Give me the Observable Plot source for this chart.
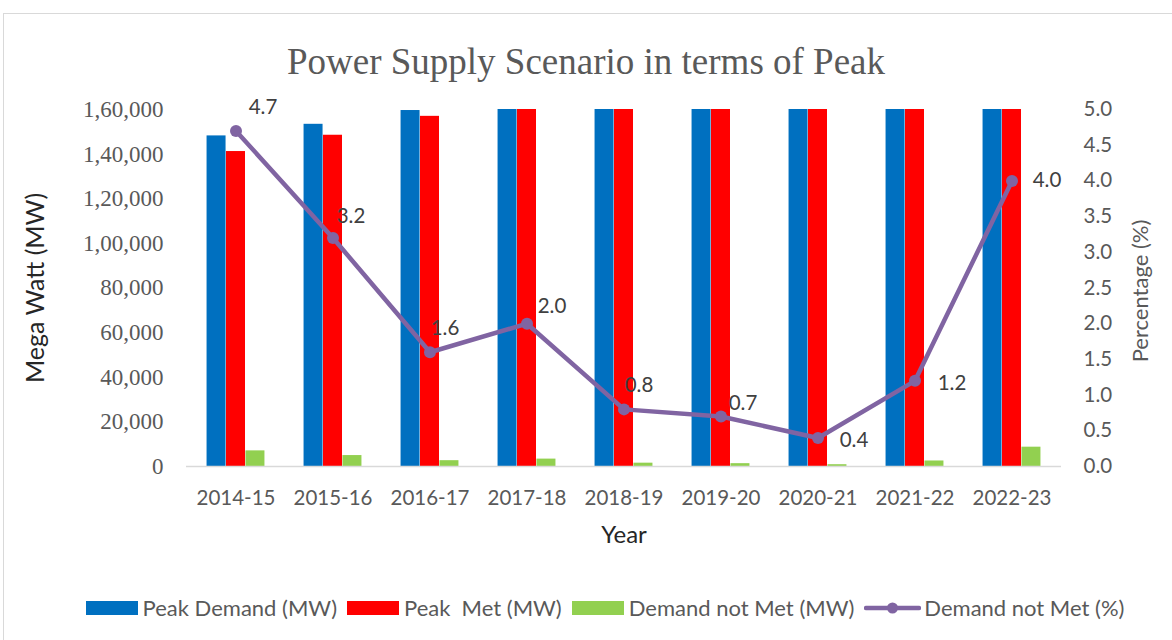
<!DOCTYPE html>
<html>
<head>
<meta charset="utf-8">
<script src="https://cdn.jsdelivr.net/npm/d3@7"></script>
<script src="https://cdn.jsdelivr.net/npm/@observablehq/plot@0.6"></script>
<style>
  html, body { margin: 0; padding: 0; background: #fff; }
  #wrap { position: relative; width: 1172px; height: 640px; overflow: hidden; font-family: Lato, "Open Sans", sans-serif; }
  #border { position: absolute; left: 3px; top: 13px; width: 1200px; height: 700px; border: 1.5px solid #d9d9d9; box-sizing: border-box; }
  #title { position: absolute; left: 0; top: 40px; width: 1172px; text-align: center; font-family: "Liberation Serif", "Times New Roman", serif; font-size: 37px; line-height: 44px; color: #595959; }
  #chart { position: absolute; left: 0; top: 90px; }
  #legend { position: absolute; left: 0; top: 594px; width: 1220px; display: flex; justify-content: center; align-items: center; font-size: 22px; color: #595959; white-space: pre; }
  .item { display: flex; align-items: center; margin-right: 10px; }
  .sw { width: 52px; height: 14px; margin-right: 5px; }
  .ln { width: 57px; height: 14px; margin-right: 3px; }
</style>
</head>
<body>
<div id="wrap">
  <div id="border"></div>
  <div id="title">Power Supply Scenario in terms of Peak</div>
  <div id="chart"></div>
  <div id="legend"></div>
</div>
<script>
// ---- data ----
const years = ["2014-15","2015-16","2016-17","2017-18","2018-19","2019-20","2020-21","2021-22","2022-23"];
const peakDemand = [148166, 153366, 159542, 164066, 177022, 183804, 190198, 203014, 215888];
const peakMet = [141160, 148463, 156934, 160752, 175528, 182533, 189395, 200539, 207231];
const demandNotMetMW = [7006, 4903, 2608, 3314, 1494, 1271, 803, 2475, 8657];
const demandNotMetPct = [4.7, 3.2, 1.6, 2.0, 0.8, 0.7, 0.4, 1.2, 4.0];
const leftTicks = [0, 20000, 40000, 60000, 80000, 100000, 120000, 140000, 160000];
const rightTicks = [0, 0.5, 1, 1.5, 2, 2.5, 3, 3.5, 4, 4.5, 5];
const seriesNames = ["Peak Demand (MW)", "Peak  Met (MW)", "Demand not Met (MW)", "Demand not Met (%)"];
const seriesColors = ["#0070c0", "#ff0000", "#92d050", "#8064a2"];

// ---- build ----
const rows = years.map((y, i) => ({year: y, demand: peakDemand[i], met: peakMet[i], gap: demandNotMetMW[i], pct: demandNotMetPct[i]}));
const yMax = 160000, pMax = 5;
const k = yMax / pMax;
const indian = d => {
  const s = String(Math.round(d));
  if (s.length <= 3) return s;
  const last = s.slice(-3);
  let rest = s.slice(0, -3);
  const parts = [];
  while (rest.length > 2) { parts.unshift(rest.slice(-2)); rest = rest.slice(0, -2); }
  if (rest) parts.unshift(rest);
  return parts.join(",") + "," + last;
};
const step = 875 / 9;
const bw = step * 0.2;
// label offsets relative to each point (dx, dy)
const labelOffsets = [[27,-23],[18,-22],[15,-24],[25,-17],[15,-24],[22,-13],[36,2],[37,3],[35,0]];

const chart = Plot.plot({
  width: 1172,
  height: 470,
  marginLeft: 186,
  marginRight: 111,
  marginTop: 19,
  marginBottom: 94,
  x: {type: "band", domain: years, paddingInner: 0.8, paddingOuter: 0.4, axis: null},
  y: {domain: [0, yMax], axis: null},
  marks: [
    Plot.barY(rows, {x: "year", y: "demand", fill: seriesColors[0], dx: -bw, clip: true}),
    Plot.barY(rows, {x: "year", y: "met", fill: seriesColors[1], clip: true}),
    Plot.barY(rows, {x: "year", y: "gap", fill: seriesColors[2], dx: bw, clip: true}),
    Plot.ruleY([0], {stroke: "#d9d9d9", strokeWidth: 1.5}),
    Plot.axisX({tickSize: 0, tickPadding: 24, label: null, fontSize: 20.5, fontFamily: "Lato", color: "#595959"}),
    Plot.axisY(leftTicks, {anchor: "left", tickSize: 0, tickPadding: 23, label: null, tickFormat: indian, fontSize: 23, fontFamily: "Liberation Serif", color: "#595959"}),
    Plot.axisY(rightTicks.map(v => v * k), {anchor: "right", tickSize: 0, tickPadding: 22, label: null, tickFormat: d => (d / k).toFixed(1), fontSize: 20.5, fontFamily: "Lato", color: "#595959"}),
    Plot.line(rows, {x: "year", y: d => d.pct * k, stroke: seriesColors[3], strokeWidth: 4.5, strokeLinejoin: "round"}),
    Plot.dot(rows, {x: "year", y: d => d.pct * k, r: 6, fill: seriesColors[3], stroke: null}),
    ...rows.map((d, i) => Plot.text([d], {x: "year", y: d => d.pct * k, text: d => d.pct.toFixed(1), dx: labelOffsets[i][0], dy: labelOffsets[i][1], fontSize: 20.5, fontFamily: "Lato", fill: "#404040"})),
    Plot.text(["Mega Watt (MW)"], {frameAnchor: "left", textAnchor: "middle", dx: -151, rotate: -90, fontSize: 25, fontFamily: "Lato", fill: "#262626"}),
    Plot.text(["Percentage (%)"], {frameAnchor: "right", textAnchor: "middle", dx: 79, dy: 3, rotate: -90, fontSize: 22, fontFamily: "Lato", fill: "#595959"}),
    Plot.text(["Year"], {frameAnchor: "bottom", dy: 76, fontSize: 24, fontFamily: "Lato", fill: "#262626"})
  ]
});
document.getElementById("chart").appendChild(chart);

// legend
const leg = document.getElementById("legend");
seriesNames.forEach((name, i) => {
  const it = document.createElement("div");
  it.className = "item";
  if (i < 3) {
    it.innerHTML = `<div class="sw" style="background:${seriesColors[i]}"></div><span>${name}</span>`;
  } else {
    it.innerHTML = `<svg class="ln" width="57" height="14"><line x1="2" y1="7" x2="55" y2="7" stroke="${seriesColors[i]}" stroke-width="4.5" stroke-linecap="round"/><circle cx="28.5" cy="7" r="5.5" fill="${seriesColors[i]}"/></svg><span>${name}</span>`;
  }
  leg.appendChild(it);
});
</script>
</body>
</html>
